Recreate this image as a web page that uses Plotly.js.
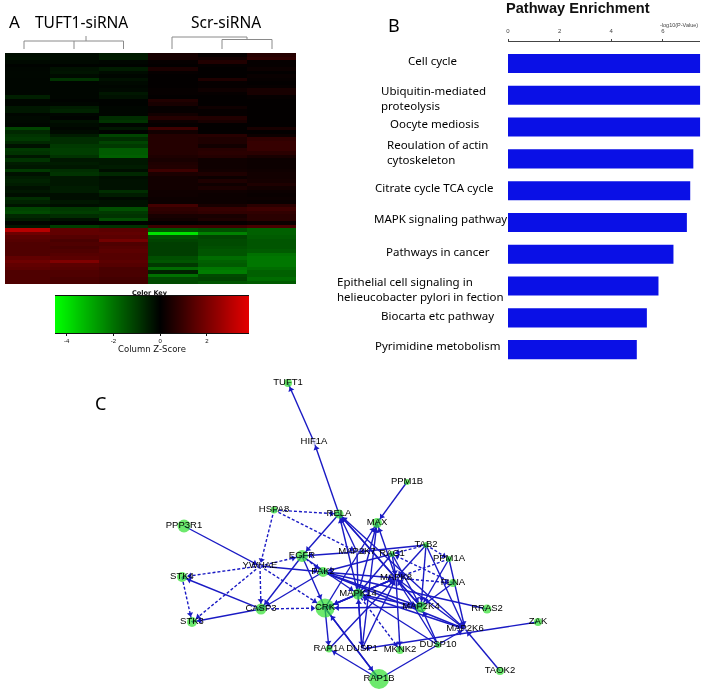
<!DOCTYPE html>
<html><head><meta charset="utf-8">
<script src="https://cdn.plot.ly/plotly-3.0.1.min.js"></script>
<style>html,body{margin:0;padding:0;background:#fff}#c{width:705px;height:692px;filter:blur(0.45px)}</style>
</head><body><div id="c"></div>
<script>
// ---------- Panel A: heat map (rows top to bottom, one list per sample)
const t1 = [-.25,-.3,-.15,-.05,-.1,-.12,-.12,-.1,-.1,-.1,-.1,-.1,-.55,-.1,-.1,-.4,-.4,-.1,-.15,-.15,-.1,-1.2,-.7,
 -.9,-1,-.7,-.3,-1,-.9,-.4,-.9,-.5,-.4,-1,-.3,-.5,-.6,-.5,-.3,-.4,-.25,-.8,-.6,-.35,-1.2,-1.3,-.7,-.5,-.08,-.4,
 3,1.8,1.5,1.4,1.3,1.3,1.3,1.3,1.6,1.8,1.6,1.5,1.3,1.3,1.3,1.3];
const t2 = [-.2,-.2,-.15,-.05,-.3,-.35,-.2,-.9,-.1,-.1,-.1,-.1,-.1,-.05,-.1,-.5,-.6,-.1,-.05,-.3,-.2,-.1,-.2,
 -.5,-.8,-.8,-1,-1.1,-1.1,-.9,-.4,-.5,-.4,-.8,-.9,-.4,-.4,-.4,-.5,-.5,-.25,-.25,-.4,-.25,-1,-1.1,-.8,-.3,-.03,-1.1,
 1.6,1.6,1.4,1.2,1.3,1.2,1.3,1.4,1.5,2.1,1.5,1.4,1.3,1.3,1.2,1.2];
const t3 = [-.45,-.5,-.1,-.05,-.5,-.2,-.1,-.3,-.15,-.1,-.15,-.4,-.3,-.05,-.05,-.1,-.1,-.1,-.8,-.9,-.1,-.4,-.05,
 -1.2,-.8,-1.2,-1,-1.6,-1.6,-1.7,-.4,-.4,-.5,-.25,-.7,-.25,-.3,-.3,-.3,-.8,-.5,-.15,-.3,-.3,-1.4,-1,-.9,-1.4,-.05,-.9,
 1.5,1.6,1.5,1.9,1.3,1.4,1.5,1.4,1.4,1.5,1.4,1.2,1.2,1.2,1.1,1.1];
const s1 = [.35,.35,.1,.05,.45,.1,.05,.05,.05,.05,.1,.1,.05,.55,.4,.1,.1,.3,.6,.2,.1,1,.3,
 .6,.6,.6,.6,.6,.6,.5,.4,.5,.55,1,.45,.3,.3,.3,.3,.25,.25,.2,.2,1.1,.8,.7,.4,.3,.05,1,
 -1.5,-4,-1.4,-1.2,-1.1,-1.1,-1.1,-1.1,-1.4,-1.5,-1,-1.9,-.6,-2,-1.3,-1.3];
const s2 = [.1,.3,.55,.1,.05,.05,.05,.5,.1,.1,.25,.1,.05,.05,.05,.25,.1,.1,.55,.4,.05,.05,.05,
 .65,.5,.5,.3,.65,.7,.6,.25,.25,.25,.3,.5,.2,.5,.25,.45,.25,.2,.2,.2,.4,.9,.8,.4,.5,.1,1,
 -1.4,-2.3,-1.2,-1.3,-1.3,-1.4,-1.5,-1.5,-1.9,-1.7,-1.6,-2.1,-2.2,-1.3,-1.2,-1.5];
const s3 = [.6,.75,.1,.1,.2,.05,.15,.1,.05,.1,.4,.4,.1,.05,.05,.05,.05,.05,.05,.05,.05,.4,.05,
 .2,.8,.9,.9,.9,.7,.4,.2,.2,.2,.25,.3,.3,.35,.5,.3,.2,.15,.2,.15,.7,1,.8,.7,.7,.2,1.2,
 -1.7,-1.7,-1.6,-1.5,-1.5,-1.5,-1.6,-2,-2.1,-2.1,-2.1,-1.9,-1.7,-1.7,-1.9,-1.6];
const heatColumns = [t1,t2,t3,s1,s2,s3];
const keySteps = [-4.5,-4,-3.5,-3,-2.5,-2,-1.5,-1,-.5,0,.5,1,1.5,2,2.5,3,3.5,4];
const keyTicks = [-4,-2,0,2];

// ---------- Panel B: pathway enrichment
const pathways = ['Cell cycle','Ubiquitin-mediated<br>proteolysis','Oocyte mediosis','Reoulation of actin<br>cytoskeleton','Citrate cycle TCA cycle','MAPK signaling pathway','Pathways in cancer','Epithelial cell signaling in<br>helieucobacter pylori in fection','Biocarta etc pathway','Pyrimidine metobolism'];
const enrichment = [7.45,7.45,7.45,7.18,7.06,6.93,6.41,5.83,5.38,4.99];
const pathwayLabelLeft = [406,378.7,388,384.7,372.7,372.3,384,335.3,378.7,373.3];
const pathwayLabelMid = [60,98,123,151.5,187.7,218,251,288.7,315.7,345];
const enrichTicks = [0,2,4,6];

// ---------- Panel C: network (layout positions)
const nodeNames = ['TUFT1','HIF1A','HSPA8','RELA','PPP3R1','MAX','PPM1B','EGFR','YWHAE','STK4','STK3','CASP3','PAK2','CRK','RAP1A','DUSP1','MAP2K7','RAC1','TAB2','PPM1A','FLNA','MAPK8','MAPK14','MAP2K4','RRAS2','MAP2K6','ZAK','DUSP10','MKNK2','TAOK2','RAP1B'];
const nodeX = [288,314,274,339,184,377,407,302,260,182,192,261,323,325,329,362,357,392,426,449,453,396,358,421,487,465,538,438,400,500,379];
const nodeY = [383,442,510,514,526,523,482,556,566,577,622,609,572,608,649,649,552,554,545,559,583,578,594,607,609,629,622,645,650,671,679];
const nodeSize = [8,7,7,9,13,10,6,12,3,10,10,11,10,19,7,3,3,6,6,6,8,3,11,11,9,3,8,6,8,8,20];
const nodeFill = ['#2fe02f','#e4e6f2','#2fe02f','#2fe02f','#2fe02f','#2fe02f','#2fe02f','#2fe02f','#e4e6f2','#2fe02f','#2fe02f','#2fe02f','#2fe02f','#2fe02f','#2fe02f','#e4e6f2','#e4e6f2','#2fe02f','#2fe02f','#2fe02f','#2fe02f','#e4e6f2','#2fe02f','#2fe02f','#2fe02f','#e4e6f2','#2fe02f','#2fe02f','#2fe02f','#2fe02f','#2fe02f'];
const solidEdges = [['HIF1A','TUFT1'],['RELA','HIF1A'],['RELA','EGFR'],['PPM1B','MAX'],['PPP3R1','YWHAE'],['CASP3','STK4'],['CASP3','STK3'],['EGFR','CASP3'],['PAK2','CASP3'],['EGFR','CRK'],['CRK','RAP1A'],['CRK','RAP1B'],['RAP1B','CRK'],['RAP1B','RAP1A'],['RAP1B','MAP2K6'],['YWHAE','PAK2'],
['MAPK8','RELA'],['MAPK14','RELA'],['MAP2K7','RELA'],['MAP2K4','RELA'],['MAP2K6','RELA'],['MAPK14','MAX'],['MAPK8','MAX'],['CRK','MAX'],['DUSP1','MAX'],['TAB2','MAP2K7'],['MAP2K7','EGFR'],['MAP2K7','MAPK14'],['RAC1','MAPK14'],['RAC1','MAPK8'],['RAC1','MAP2K4'],['MAPK8','MAPK14'],['MAPK8','CRK'],['MAPK14','CRK'],['MAP2K4','CRK'],['MAP2K4','MAPK8'],['MAP2K6','MAPK8'],['MAP2K6','MAPK14'],['MAP2K4','MAPK14'],['TAB2','MAP2K4'],['TAB2','MAP2K6'],['TAB2','MAPK8'],['PPM1A','MAP2K4'],['PPM1A','MAP2K6'],['FLNA','MAP2K4'],['RRAS2','PAK2'],['RAC1','PAK2'],['PAK2','MAP2K6'],['PAK2','MAP2K4'],['PAK2','MAPK8'],['ZAK','DUSP1'],['TAOK2','MAP2K6'],['DUSP1','MAPK8'],['DUSP1','MAPK14'],['DUSP10','MAPK8'],['DUSP10','MAPK14'],['DUSP10','MAP2K4'],['MAPK8','MKNK2'],['RAP1A','MAPK8'],['MAPK14','DUSP1'],['EGFR','MAPK14'],['CRK','MAPK8']];
const dashedEdges = [['HSPA8','RELA'],['HSPA8','MAP2K7'],['HSPA8','YWHAE'],['YWHAE','CASP3'],['YWHAE','STK3'],['YWHAE','STK4'],['YWHAE','EGFR'],['YWHAE','CRK'],['STK4','STK3'],['CASP3','CRK'],['EGFR','PAK2'],['FLNA','RAC1'],['PPM1A','MAPK8'],['TAB2','PPM1A'],['TAB2','RAC1'],['MAPK8','FLNA'],['MAPK14','MKNK2']];

// ---------- Dendrograms above panel A
const dendroX = [24,24,123.5,123.5,null,74,74,null,86,86,null,172,172,247,247,null,222,222,272,272,null,222,272];
const dendroY = [49,41,41,49,null,41,49,null,41,36,null,49,37,37,39.5,null,49,39.5,39.5,49,null,39.5,39.5];

const zlo=-4.5, zhi=3.8;
const heatScale=[[0,'#00ff00'],[-zlo/(zhi-zlo),'#000000'],[1,'#e60000']];
const rows=t1.map((_,i)=>i);
const heatZ=rows.map(r=>heatColumns.map(c=>c[r]));
const pos={}; nodeNames.forEach((n,i)=>pos[n]={x:nodeX[i],y:nodeY[i],r:nodeSize[i]/2});
function edgeLines(list){const xs=[],ys=[];list.forEach(([a,b])=>{xs.push(pos[a].x,pos[b].x,null);ys.push(pos[a].y,pos[b].y,null);});return{xs,ys};}
function heads(list){const xs=[],ys=[],as=[];list.forEach(([a,b])=>{const dx=pos[b].x-pos[a].x,dy=pos[b].y-pos[a].y,d=Math.hypot(dx,dy),gap=Math.max(pos[b].r,3)+3;xs.push(pos[b].x-dx/d*gap);ys.push(pos[b].y-dy/d*gap);as.push(Math.atan2(dx,-dy)*180/Math.PI);});return{xs,ys,as};}
const sl=edgeLines(solidEdges),dl=edgeLines(dashedEdges);
const allHeads=heads(solidEdges.concat(dashedEdges));
const ink='#1a1ac4';
const H=692,W=705;
const dx=(a,b)=>[a/W,b/W], dy=(top,bot)=>[1-bot/H,1-top/H];

const traces=[
 {type:'heatmap',x:[0,1,2,3,4,5],y:rows,z:heatZ,zmin:zlo,zmax:zhi,colorscale:heatScale,showscale:false,xaxis:'x',yaxis:'y',hoverinfo:'skip'},
 {type:'heatmap',x:keySteps,y:[0,1],z:[keySteps,keySteps],zmin:zlo,zmax:zhi,zsmooth:'best',colorscale:heatScale,showscale:false,xaxis:'x2',yaxis:'y2',hoverinfo:'skip'},
 {type:'bar',orientation:'h',x:enrichment,y:pathways.map((_,i)=>i),width:0.6,marker:{color:'#0a10e6',line:{width:0}},xaxis:'x3',yaxis:'y3',hoverinfo:'skip'},
 {type:'scatter',mode:'lines',x:dendroX,y:dendroY,line:{color:'#8a8a8a',width:1},xaxis:'x4',yaxis:'y4',hoverinfo:'skip'},
 {type:'scatter',mode:'lines',x:sl.xs,y:sl.ys,line:{color:ink,width:1.4},xaxis:'x4',yaxis:'y4',hoverinfo:'skip'},
 {type:'scatter',mode:'lines',x:dl.xs,y:dl.ys,line:{color:ink,width:1.4,dash:'3px,2px'},xaxis:'x4',yaxis:'y4',hoverinfo:'skip'},
 {type:'scatter',mode:'markers',x:nodeX,y:nodeY,marker:{size:nodeSize,color:nodeFill,line:{width:0}},xaxis:'x4',yaxis:'y4',hoverinfo:'skip'},
 {type:'scatter',mode:'markers',x:allHeads.xs,y:allHeads.ys,marker:{symbol:'triangle-up',size:5.5,color:ink,angle:allHeads.as,line:{width:0}},xaxis:'x4',yaxis:'y4',hoverinfo:'skip'},
 {type:'scatter',mode:'text',x:nodeX,y:nodeY,text:nodeNames,textposition:'middle center',textfont:{family:'Liberation Sans',size:9.5,color:'#000'},xaxis:'x4',yaxis:'y4',hoverinfo:'skip'}
];
const note=(text,x,y,size,extra)=>Object.assign({xref:'x4',yref:'y4',x,y,text,showarrow:false,xanchor:'center',yanchor:'middle',font:{family:'Noto Sans',size,color:'#000'}},extra||{});
const annotations=[
 note('A',14,21,17), note('B',394,25,18), note('C',100,403,18),
 note('TUFT1-siRNA',81,22,15.5), note('Scr-siRNA',226,22,15.5),
 note('<b>Pathway Enrichment</b>',578,8,14.6,{font:{family:'Liberation Sans',size:14.6,color:'#111'}}),
 note('-log10(P-Value)',700,25,5.5,{xanchor:'right',font:{family:'Liberation Sans',size:5.5,color:'#444'}}),
 note('<b>Color Key</b>',150,292.5,6.5,{font:{family:'DejaVu Sans',size:6.5,color:'#111'}})
].concat(pathways.map((p,i)=>note(p,pathwayLabelLeft[i],pathwayLabelMid[i],11.5,{xanchor:'left',align:'left',font:{family:'Noto Sans',size:11.5,color:'#000'}})));
const hidden={visible:false,fixedrange:true};
const layout={width:W,height:H,margin:{l:0,r:0,t:0,b:0},paper_bgcolor:'#fff',plot_bgcolor:'rgba(0,0,0,0)',showlegend:false,dragmode:false,annotations,
 xaxis:Object.assign({},hidden,{domain:dx(5,296),range:[-0.4026,5.5],anchor:'y'}),
 yaxis:Object.assign({},hidden,{domain:dy(53,284),range:[65.5,-0.5],anchor:'x'}),
 xaxis2:{domain:dx(55,249),anchor:'y2',range:[zlo,zhi],tickvals:keyTicks,ticktext:keyTicks.map(String),ticks:'outside',ticklen:2,tickwidth:1,tickcolor:'#111',showline:true,linecolor:'#111',linewidth:1,mirror:true,showgrid:false,zeroline:false,tickfont:{family:'Liberation Sans',size:6,color:'#111'},title:{text:'Column Z-Score',font:{family:'DejaVu Sans',size:8.5,color:'#111'},standoff:0},fixedrange:true},
 yaxis2:Object.assign({},hidden,{domain:dy(296,333),anchor:'x2',range:[0,1]}),
 xaxis3:{domain:dx(508,700.3),anchor:'y3',side:'top',range:[0,7.45],tickvals:enrichTicks,ticktext:enrichTicks.map(String),ticks:'outside',ticklen:2,ticklabelstandoff:4,tickwidth:1,tickcolor:'#444',showline:true,linecolor:'#444',linewidth:1,showgrid:false,zeroline:false,tickfont:{family:'Liberation Sans',size:6,color:'#444'},fixedrange:true},
 yaxis3:Object.assign({},hidden,{domain:dy(42,370),anchor:'x3',range:[9.64,-0.676]}),
 xaxis4:Object.assign({},hidden,{domain:[0,1],range:[0,W],anchor:'y4'}),
 yaxis4:Object.assign({},hidden,{domain:[0,1],range:[H,0],anchor:'x4'})
};
Plotly.newPlot('c',traces,layout,{displayModeBar:false,staticPlot:true});
</script></body></html>
